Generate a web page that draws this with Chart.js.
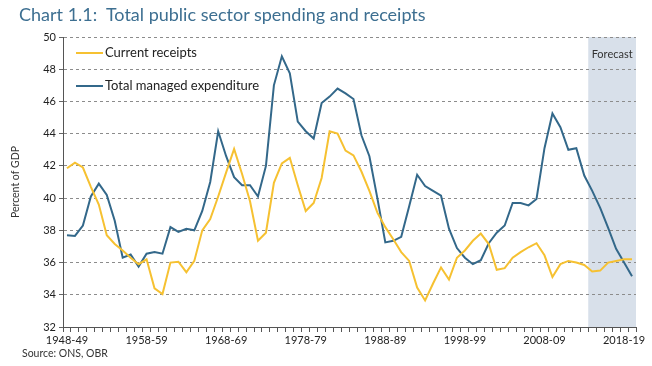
<!DOCTYPE html>
<html>
<head>
<meta charset="utf-8">
<script src="https://cdn.jsdelivr.net/npm/chart.js@4.4.0/dist/chart.umd.min.js"></script>
<style>
    body { margin: 0; background: #fff; }
    #wrap { position: relative; width: 652px; height: 366px; font-family: Lato, sans-serif; }
    #myChart { position: absolute; left: 0; top: 0; }
    #title { position: absolute; left: 19px; top: 3px; font-size: 18px; color: #3d6f91; white-space: nowrap; }
    #source { position: absolute; left: 22px; top: 347px; font-size: 10.5px; color: #333; white-space: nowrap; }
</style>
</head>
<body>
<div id="wrap">
    <canvas id="myChart" width="652" height="366"></canvas>
    <div id="title">Chart 1.1:&nbsp; Total public sector spending and receipts</div>
    <div id="source">Source: ONS, OBR</div>
</div>
<script>
const years = [
    '1948-49', '1949-50', '1950-51', '1951-52', '1952-53', '1953-54', '1954-55', '1955-56', '1956-57', '1957-58',
    '1958-59', '1959-60', '1960-61', '1961-62', '1962-63', '1963-64', '1964-65', '1965-66', '1966-67', '1967-68',
    '1968-69', '1969-70', '1970-71', '1971-72', '1972-73', '1973-74', '1974-75', '1975-76', '1976-77', '1977-78',
    '1978-79', '1979-80', '1980-81', '1981-82', '1982-83', '1983-84', '1984-85', '1985-86', '1986-87', '1987-88',
    '1988-89', '1989-90', '1990-91', '1991-92', '1992-93', '1993-94', '1994-95', '1995-96', '1996-97', '1997-98',
    '1998-99', '1999-00', '2000-01', '2001-02', '2002-03', '2003-04', '2004-05', '2005-06', '2006-07', '2007-08',
    '2008-09', '2009-10', '2010-11', '2011-12', '2012-13', '2013-14', '2014-15', '2015-16', '2016-17', '2017-18',
    '2018-19', '2019-20'
];

const currentReceipts = [
    41.85, 42.2, 41.9, 40.7, 39.6, 37.7, 37.15, 36.75, 36.3, 35.9,
    36.2, 34.4, 34.05, 36.0, 36.05, 35.4, 36.1, 38.0, 38.7, 40.1,
    41.6, 43.05, 41.5, 39.8, 37.35, 37.85, 40.95, 42.15, 42.5, 40.8,
    39.2, 39.7, 41.25, 44.15, 44.0, 42.95, 42.65, 41.65, 40.45, 39.1,
    38.2, 37.45, 36.65, 36.1, 34.45, 33.65, 34.7, 35.7, 34.95, 36.3,
    36.75, 37.35, 37.8, 37.15, 35.55, 35.65, 36.3, 36.65, 36.95, 37.2,
    36.45, 35.1, 35.9, 36.1, 36.0, 35.85, 35.45, 35.5, 36.0, 36.1,
    36.2, 36.2
];

const totalManagedExpenditure = [
    37.7, 37.65, 38.3, 40.1, 40.9, 40.2, 38.6, 36.3, 36.5, 35.75,
    36.55, 36.65, 36.55, 38.2, 37.9, 38.1, 38.0, 39.2, 41.0, 44.15,
    42.6, 41.3, 40.8, 40.8, 40.1, 42.0, 47.0, 48.8, 47.75, 44.75,
    44.15, 43.7, 45.9, 46.3, 46.8, 46.5, 46.15, 43.9, 42.6, 40.0,
    37.25, 37.35, 37.6, 39.5, 41.45, 40.75, 40.45, 40.15, 38.1, 36.9,
    36.3, 35.9, 36.15, 37.2, 37.85, 38.3, 39.7, 39.7, 39.55, 39.95,
    43.1, 45.25, 44.4, 43.0, 43.1, 41.4, 40.45, 39.4, 38.15, 36.85,
    36.0, 35.15
];

const tickLabels = ['1948-49', '1958-59', '1968-69', '1978-79', '1988-89', '1998-99', '2008-09', '2018-19'];
const forecastFrom = '2014-15';

// shaded forecast block, drawn before the grid so the dashes show through
const forecastShade = {
    id: 'forecastShade',
    beforeDraw(chart) {
        const { ctx, chartArea, scales: { x } } = chart;
        const half = (x.getPixelForValue(1) - x.getPixelForValue(0)) / 2;
        const left = x.getPixelForValue(years.indexOf(forecastFrom)) - half;
        ctx.save();
        ctx.fillStyle = '#d8e0ea';
        ctx.fillRect(left, chartArea.top, chartArea.right - left, chartArea.bottom - chartArea.top);
        ctx.fillStyle = '#333';
        ctx.font = '11px Lato';
        ctx.textAlign = 'center';
        ctx.textBaseline = 'middle';
        ctx.fillText('Forecast', (left + chartArea.right) / 2, chartArea.top + 17);
        ctx.restore();
    }
};

// legend sits inside the plot, top left
const insideLegend = {
    id: 'insideLegend',
    afterDatasetsDraw(chart) {
        const { ctx, chartArea } = chart;
        ctx.save();
        chart.data.datasets.forEach((ds, i) => {
            const y = chartArea.top + 16 + i * 33;
            const x0 = chartArea.left + 13;
            ctx.strokeStyle = ds.borderColor;
            ctx.lineWidth = 2;
            ctx.beginPath();
            ctx.moveTo(x0, y);
            ctx.lineTo(x0 + 27, y);
            ctx.stroke();
            ctx.fillStyle = '#222';
            ctx.font = '13px Lato';
            ctx.textBaseline = 'middle';
            ctx.fillText(ds.label, x0 + 29, y);
        });
        ctx.restore();
    }
};

let ctx = document.getElementById('myChart').getContext('2d');
let spendingChart = new Chart(ctx, {
    type: 'line',
    data: {
        labels: years,
        datasets: [{
            label: 'Current receipts',
            data: currentReceipts,
            borderColor: '#f6c131',
            borderWidth: 2,
            pointRadius: 0,
            tension: 0
        }, {
            label: 'Total managed expenditure',
            data: totalManagedExpenditure,
            borderColor: '#33688a',
            borderWidth: 2,
            pointRadius: 0,
            tension: 0
        }]
    },
    options: {
        responsive: false,
        animation: false,
        layout: { padding: { left: 0, right: 16, top: 37, bottom: 0 } },
        plugins: {
            legend: { display: false },
            tooltip: { enabled: false }
        },
        scales: {
            x: {
                offset: true,
                afterFit: scale => { scale.height = 39; },
                grid: { drawOnChartArea: false, drawTicks: true, tickLength: 5, color: '#555', offset: true },
                border: { color: '#555', width: 1 },
                ticks: {
                    autoSkip: false,
                    maxRotation: 0,
                    padding: 2,
                    color: '#222',
                    font: { family: 'Lato', size: 11 },
                    callback: function (v, i) {
                        return tickLabels.includes(years[i]) ? years[i] : '';
                    }
                }
            },
            y: {
                min: 32,
                max: 50,
                afterFit: scale => { scale.width = 63; },
                grid: { color: '#8c8c8c', tickLength: 4, tickColor: '#666', borderDash: [3, 3] },
                border: { color: '#555', width: 1, dash: [3, 3] },
                ticks: {
                    stepSize: 2,
                    padding: 3,
                    color: '#222',
                    font: { family: 'Lato', size: 11 }
                },
                title: {
                    display: true,
                    text: 'Percent of GDP',
                    color: '#333',
                    font: { family: 'Lato', size: 10.5 },
                    padding: { top: 9 }
                }
            }
        }
    },
    plugins: [forecastShade, insideLegend]
});
</script>
</body>
</html>
